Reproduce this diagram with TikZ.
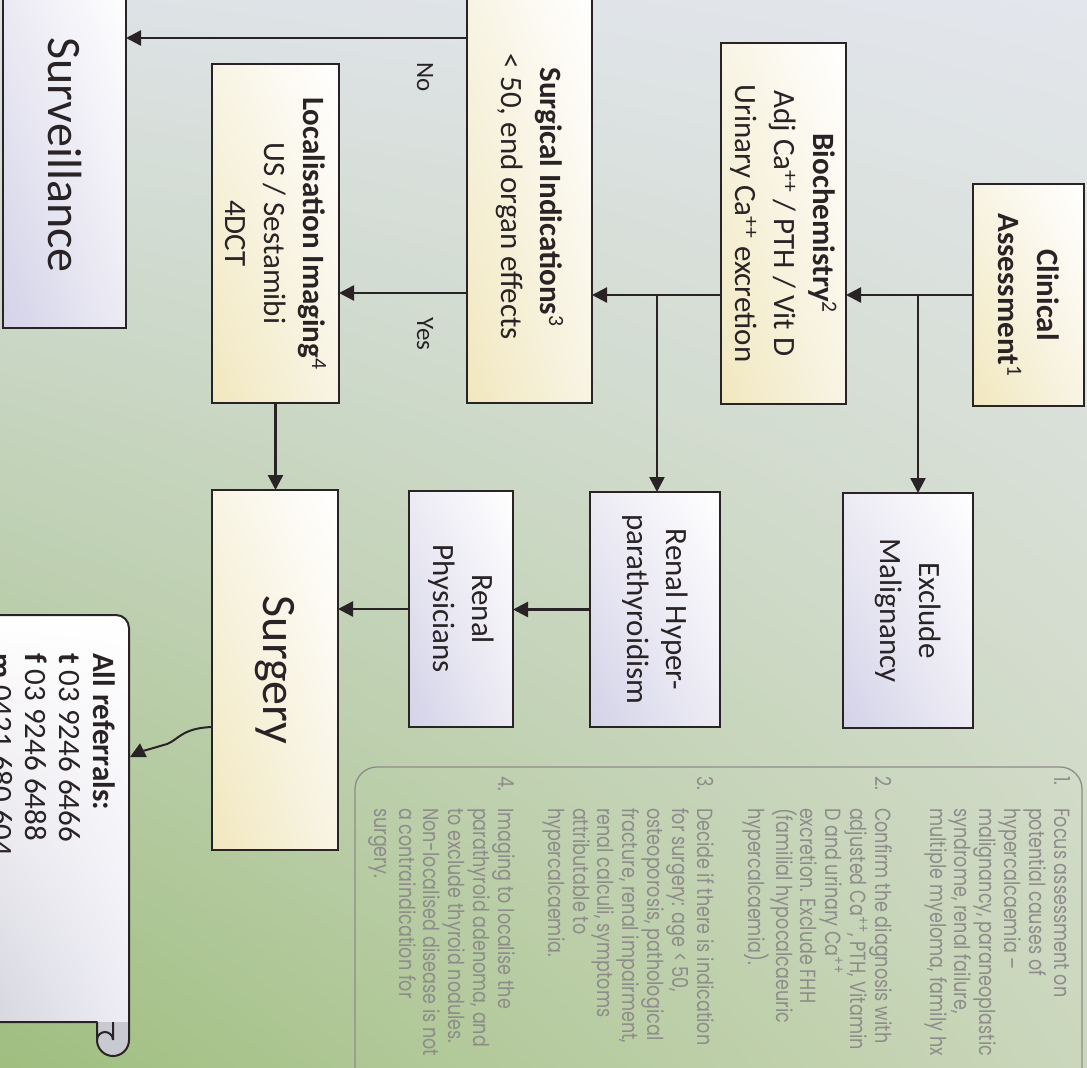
\documentclass[tikz,border=0pt]{standalone}
\usepackage{fontspec}
\setmainfont{Carlito}
\newfontfamily\notefont[FakeStretch=0.80]{Poppins}
\usetikzlibrary{arrows.meta,shadings}
\definecolor{ink}{HTML}{2A2326}
\definecolor{bgUL}{HTML}{DDE2E5}
\definecolor{bgUR}{HTML}{E3E6EC}
\definecolor{bgLL}{HTML}{9FBE7F}
\definecolor{bgLR}{HTML}{CBD7BC}
\definecolor{boxY}{HTML}{F1E7BE}
\definecolor{boxYm}{HTML}{F8F4E4}
\definecolor{boxL}{HTML}{D3D2E8}
\definecolor{boxLm}{HTML}{ECEBF4}
\definecolor{notegrey}{HTML}{8E8C8A}
\definecolor{scrollL}{HTML}{D2D2DC}
\definecolor{curl}{HTML}{C9C9D2}
\tikzset{
  box/.style={draw=ink, line width=2.5pt, inner sep=0pt, outer sep=0pt, align=center,
    text=ink, font=\fontsize{31}{39}\selectfont},
  ybox/.style={box, shade, upper right=white, upper left=boxYm, lower right=boxYm, lower left=boxY},
  lbox/.style={box, shade, upper right=white, upper left=boxLm, lower right=boxLm, lower left=boxL},
  bigtext/.style={font=\fontsize{48}{52}\selectfont},
  conn/.style={draw=ink, line width=2.5pt, -{Triangle[length=15pt,width=15pt]}},
  lbl/.style={text=ink, font=\fontsize{25}{28}\selectfont, inner sep=0pt},
  note/.style={text=notegrey, align=left, inner sep=0pt, outer sep=0pt, anchor=north west,
    font=\notefont\fontsize{22}{24.8}\selectfont},
  reftext/.style={text=ink, align=left, inner sep=0pt, outer sep=0pt, anchor=north west,
    font=\fontsize{31}{34}\selectfont},
}
\newcommand{\nnum}[1]{\makebox[32pt][l]{#1}}
\newcommand{\nind}{\hspace*{32pt}}
\begin{document}
\begin{tikzpicture}[x=1pt,y=1pt]
\shade[upper left=bgUL, upper right=bgUR, lower left=bgLL, lower right=bgLR] (0,-1068) rectangle (1087,0);
\useasboundingbox (0,-1068) rectangle (1087,0);

% scroll (image coordinates)
\path[shade, upper left=white, upper right=white, lower left=scrollL, lower right=boxLm]
  (-10,-615) -- (116,-615) arc[start angle=90, end angle=0, radius=13] -- (129,-1040)
  arc[start angle=0, end angle=-180, radius=16] -- (97,-1022) -- (-10,-1022) -- cycle;
\fill[curl] (97,-1022) rectangle (129,-1040);
\fill[curl] (113,-1040) circle[radius=16];
\draw[ink, line width=2pt, line join=round]
  (-10,-615) -- (116,-615) arc[start angle=90, end angle=0, radius=13] -- (129,-1040)
  arc[start angle=0, end angle=-180, radius=16] -- (97,-1022) -- (-10,-1022);
\draw[ink, line width=2pt] (113,-1022) -- (113,-1040) arc[start angle=0, end angle=180, radius=8];

\begin{scope}[rotate=-90, transform shape]
% notes box
\draw[notegrey, line width=1.3pt, rounded corners=22pt] (767,355) rectangle (1110,1082);
\node[note] (n1) at (776,1070) {\nnum{1.}Focus assessment on\\\nind potential causes of\\\nind hypercalcaemia –\\\nind malignancy, paraneoplastic\\\nind syndrome, renal failure,\\\nind multiple myeloma, family hx};
\node[note] (n2) at (776,892) {\nnum{2.}Confirm the diagnosis with\\\nind adjusted Ca\textsuperscript{++}, PTH, Vitamin\\\nind D and urinary Ca\textsuperscript{++}\\\nind excretion. Exclude FHH\\\nind (familial hypocalcaeuric\\\nind hypercalcaemia).};
\node[note] (n3) at (776,714) {\nnum{3.}Decide if there is indication\\\nind for surgery: age < 50,\\\nind osteoporosis, pathological\\\nind fracture, renal impairment,\\\nind renal calculi, symptoms\\\nind attributable to\\\nind hypercalcaemia.};
\node[note] (n4) at (776,515) {\nnum{4.}Imaging to localise the\\\nind parathyroid adenoma, and\\\nind to exclude thyroid nodules.\\\nind Non-localised disease is not\\\nind a contraindication for\\\nind surgery.};

% boxes
\node[ybox, minimum width=222pt, minimum height=111pt] (clin) at (295,1028.5)
  {\textbf{Clinical}\\\textbf{Assessment}\textsuperscript{1}};
\node[ybox, minimum width=361pt, minimum height=125pt] (bio) at (223.5,783.5)
  {\textbf{Biochemistry}\textsuperscript{2}\\Adj Ca\textsuperscript{++} / PTH / Vit D\\Urinary Ca\textsuperscript{++} excretion};
\node[ybox, minimum width=412pt, minimum height=125pt] (surg) at (197,529.5)
  {\textbf{Surgical Indications}\textsuperscript{3}\\< 50, end organ effects};
\node[lbox, bigtext, minimum width=346pt, minimum height=123pt] (surv) at (155,64.5) {Surveillance};
\node[ybox, minimum width=339pt, minimum height=127pt] (loc) at (233.5,275.5)
  {\textbf{Localisation Imaging}\textsuperscript{4}\\US / Sestamibi\\4DCT};
\node[lbox, minimum width=235pt, minimum height=130pt] (excl) at (610.5,908) {Exclude\\Malignancy};
\node[lbox, minimum width=235pt, minimum height=130pt] (rhyp) at (609.5,655) {Renal Hyper-\\parathyroidism};
\node[lbox, minimum width=236pt, minimum height=104pt] (rphys) at (609,461) {Renal\\Physicians};
\node[ybox, bigtext, minimum width=360pt, minimum height=126pt] (surgery) at (670,275) {Surgery};

% scroll text
\node[reftext] (ref) at (653,115) {\textbf{All referrals:}\\\textbf{t} 03 9246 6466\\\textbf{f} 03 9246 6488\\\textbf{m} 0421 680 604};
\coordinate (refin) at (757,130);

% labels
\node[lbl] (no) at (77,425) {No};
\node[lbl] (yes) at (334,425) {Yes};

% connectors
\coordinate (b1) at (clin.south |- 0,918);
\coordinate (b2) at (clin.south |- 0,657);
\draw[conn] (clin.south) -- (clin.south |- bio.north);
\draw[conn] (b1) -- (b1 -| excl.west);
\draw[conn] (clin.south |- bio.south) -- (clin.south |- surg.north);
\draw[conn] (b2) -- (b2 -| rhyp.west);
\draw[conn] (surg.south -| 38,0) -- (surv.north -| 38,0);
\draw[conn] (surg.south -| 293,0) -- (loc.north -| 293,0);
\draw[conn] (loc.east) -- (loc.east -| surgery.west);
\draw[conn] (rhyp.south) -- (rhyp.south |- rphys.north);
\draw[conn] (rphys.south) -- (rphys.south |- surgery.north);
\draw[conn, line width=2pt] (surgery.south -| 727,0) .. controls (728,182) and (740,178) .. (744,167)
  .. controls (749,150) and (752,140) .. (refin);
\end{scope}
\end{tikzpicture}
\end{document}
